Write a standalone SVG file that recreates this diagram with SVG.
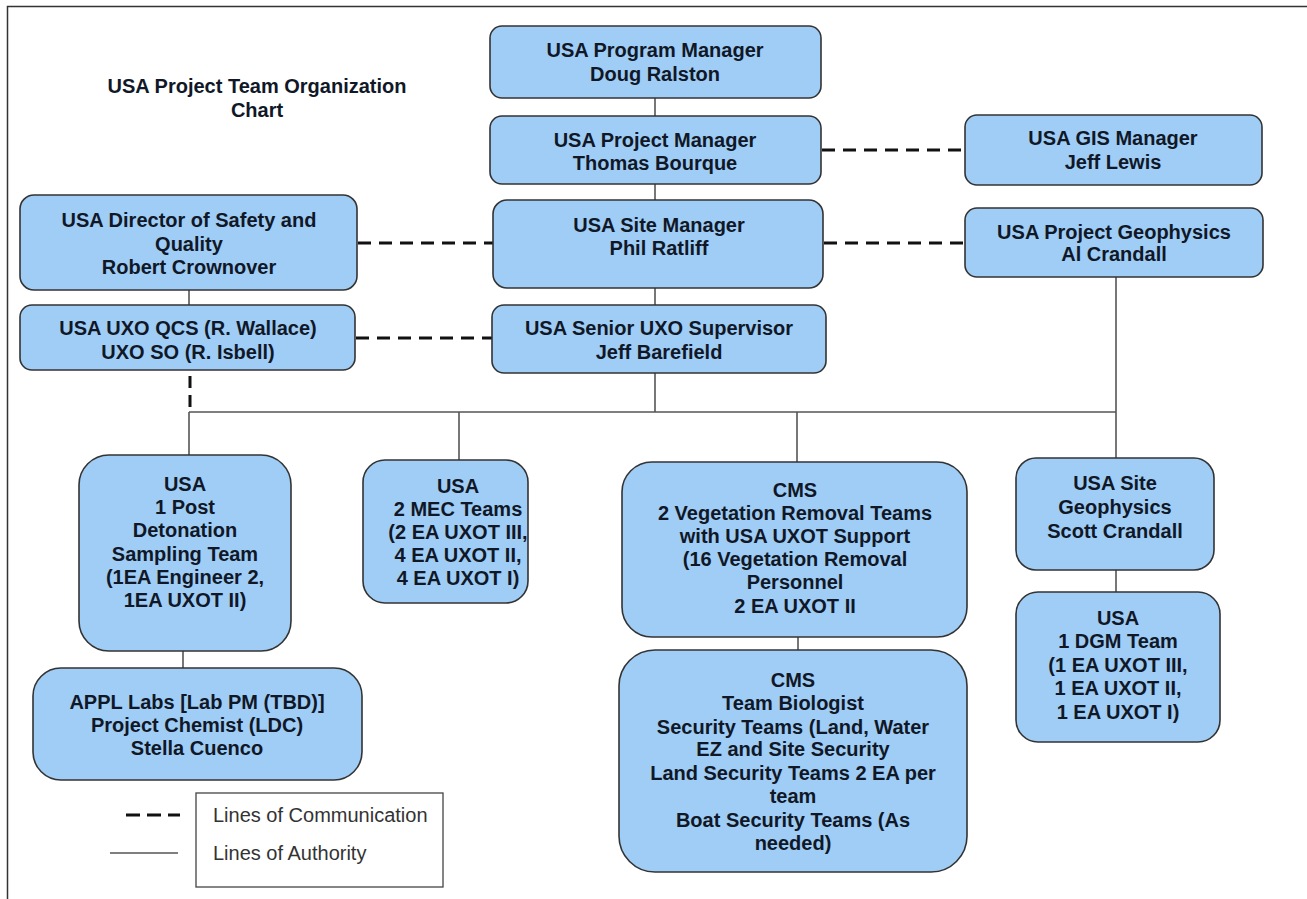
<svg xmlns="http://www.w3.org/2000/svg" width="1307" height="899" viewBox="0 0 1307 899">
<style>
.box{fill:#a0cdf5;stroke:#333;stroke-width:1.6}
.t{font-family:"Liberation Sans",Arial,sans-serif;font-weight:bold;font-size:20px;fill:#101828;text-anchor:middle}
.auth{stroke:#555;stroke-width:1.6;fill:none}
.comm{stroke:#111;stroke-width:3;stroke-dasharray:13 8;fill:none}
.leg{font-family:"Liberation Sans",Arial,sans-serif;font-size:20px;fill:#333}
</style>
<rect width="1307" height="899" fill="#fff"/>
<path d="M7.5 899 V6.5 H1307" fill="none" stroke="#333" stroke-width="1.5"/>
<g id="title">
<text class="t" x="257" y="93">USA Project Team Organization</text>
<text class="t" x="257" y="117">Chart</text>
</g>
<g id="connectors">
<line class="auth" x1="655" y1="98" x2="655" y2="116"/>
<line class="auth" x1="655" y1="184" x2="655" y2="200"/>
<line class="auth" x1="655" y1="288" x2="655" y2="305"/>
<line class="auth" x1="655" y1="373" x2="655" y2="412"/>
<line class="auth" x1="189" y1="412" x2="1116" y2="412"/>
<line class="auth" x1="189" y1="290" x2="189" y2="305"/>
<line class="auth" x1="189" y1="412" x2="189" y2="455"/>
<line class="auth" x1="459" y1="412" x2="459" y2="460"/>
<line class="auth" x1="797" y1="412" x2="797" y2="462"/>
<line class="auth" x1="1116" y1="277" x2="1116" y2="458"/>
<line class="auth" x1="1116" y1="570" x2="1116" y2="592"/>
<line class="auth" x1="183" y1="651" x2="183" y2="668"/>
<line class="auth" x1="798" y1="637" x2="798" y2="650"/>
<line class="comm" x1="190" y1="376" x2="190" y2="412" style="stroke-dasharray:12 7"/>
<line class="comm" x1="822" y1="150" x2="965" y2="150"/>
<line class="comm" x1="358" y1="243" x2="493" y2="243"/>
<line class="comm" x1="824" y1="243" x2="965" y2="243"/>
<line class="comm" x1="356" y1="338" x2="492" y2="338"/>
</g>
<g id="program-manager">
<rect class="box" x="490" y="26" width="331" height="72" rx="12"/>
<text class="t" x="655" y="57">USA Program Manager</text>
<text class="t" x="655" y="81">Doug Ralston</text>
</g>
<g id="project-manager">
<rect class="box" x="490" y="116" width="331" height="68" rx="12"/>
<text class="t" x="655" y="147">USA Project Manager</text>
<text class="t" x="655" y="170">Thomas Bourque</text>
</g>
<g id="gis-manager">
<rect class="box" x="965" y="115" width="297" height="70" rx="12"/>
<text class="t" x="1113" y="145">USA GIS Manager</text>
<text class="t" x="1113" y="169">Jeff Lewis</text>
</g>
<g id="project-geophysics">
<rect class="box" x="965" y="208" width="298" height="69" rx="12"/>
<text class="t" x="1114" y="239">USA Project Geophysics</text>
<text class="t" x="1114" y="261">Al Crandall</text>
</g>
<g id="director-safety">
<rect class="box" x="20" y="195" width="337" height="95" rx="14"/>
<text class="t" x="189" y="227">USA Director of Safety and</text>
<text class="t" x="189" y="251">Quality</text>
<text class="t" x="189" y="274">Robert Crownover</text>
</g>
<g id="site-manager">
<rect class="box" x="493" y="200" width="330" height="88" rx="14"/>
<text class="t" x="659" y="232">USA Site Manager</text>
<text class="t" x="659" y="255">Phil Ratliff</text>
</g>
<g id="senior-uxo">
<rect class="box" x="492" y="305" width="334" height="68" rx="12"/>
<text class="t" x="659" y="335">USA Senior UXO Supervisor</text>
<text class="t" x="659" y="359">Jeff Barefield</text>
</g>
<g id="uxo-qcs">
<rect class="box" x="20" y="305" width="335" height="65" rx="12"/>
<text class="t" x="188" y="335">USA UXO QCS (R. Wallace)</text>
<text class="t" x="188" y="359">UXO SO (R. Isbell)</text>
</g>
<g id="post-detonation">
<rect class="box" x="79" y="455" width="212" height="196" rx="30"/>
<text class="t" x="185" y="491">USA</text>
<text class="t" x="185" y="514">1 Post</text>
<text class="t" x="185" y="537">Detonation</text>
<text class="t" x="185" y="561">Sampling Team</text>
<text class="t" x="185" y="584">(1EA Engineer 2,</text>
<text class="t" x="185" y="607">1EA UXOT II)</text>
</g>
<g id="mec-teams">
<rect class="box" x="363" y="460" width="165" height="143" rx="22"/>
<text class="t" x="458" y="493">USA</text>
<text class="t" x="458" y="516">2 MEC Teams</text>
<text class="t" x="458" y="539">(2 EA UXOT III,</text>
<text class="t" x="458" y="562">4 EA UXOT II,</text>
<text class="t" x="458" y="585">4 EA UXOT I)</text>
</g>
<g id="cms-vegetation">
<rect class="box" x="622" y="462" width="345" height="175" rx="30"/>
<text class="t" x="795" y="497">CMS</text>
<text class="t" x="795" y="520">2 Vegetation Removal Teams</text>
<text class="t" x="795" y="543">with USA UXOT Support</text>
<text class="t" x="795" y="566">(16 Vegetation Removal</text>
<text class="t" x="795" y="589">Personnel</text>
<text class="t" x="795" y="613">2 EA UXOT II</text>
</g>
<g id="site-geophysics">
<rect class="box" x="1016" y="458" width="198" height="112" rx="20"/>
<text class="t" x="1115" y="490">USA Site</text>
<text class="t" x="1115" y="514">Geophysics</text>
<text class="t" x="1115" y="538">Scott Crandall</text>
</g>
<g id="dgm-team">
<rect class="box" x="1016" y="592" width="204" height="150" rx="22"/>
<text class="t" x="1118" y="625">USA</text>
<text class="t" x="1118" y="648">1 DGM Team</text>
<text class="t" x="1118" y="672">(1 EA UXOT III,</text>
<text class="t" x="1118" y="695">1 EA UXOT II,</text>
<text class="t" x="1118" y="719">1 EA UXOT I)</text>
</g>
<g id="appl-labs">
<rect class="box" x="33" y="668" width="329" height="112" rx="28"/>
<text class="t" x="197" y="709">APPL Labs [Lab PM (TBD)]</text>
<text class="t" x="197" y="732">Project Chemist (LDC)</text>
<text class="t" x="197" y="755">Stella Cuenco</text>
</g>
<g id="cms-security">
<rect class="box" x="619" y="650" width="348" height="222" rx="36"/>
<text class="t" x="793" y="687">CMS</text>
<text class="t" x="793" y="710">Team Biologist</text>
<text class="t" x="793" y="734">Security Teams (Land, Water</text>
<text class="t" x="793" y="756">EZ and Site Security</text>
<text class="t" x="793" y="780">Land Security Teams 2 EA per</text>
<text class="t" x="793" y="803">team</text>
<text class="t" x="793" y="827">Boat Security Teams (As</text>
<text class="t" x="793" y="850">needed)</text>
</g>
<g id="legend">
<rect x="196" y="793" width="247" height="94" fill="#fff" stroke="#444" stroke-width="1.3"/>
<line class="comm" x1="126" y1="815" x2="180" y2="815" style="stroke-dasharray:14 7"/>
<line class="auth" x1="110" y1="853" x2="178" y2="853"/>
<text class="leg" x="213" y="822">Lines of Communication</text>
<text class="leg" x="213" y="860">Lines of Authority</text>
</g>
</svg>
